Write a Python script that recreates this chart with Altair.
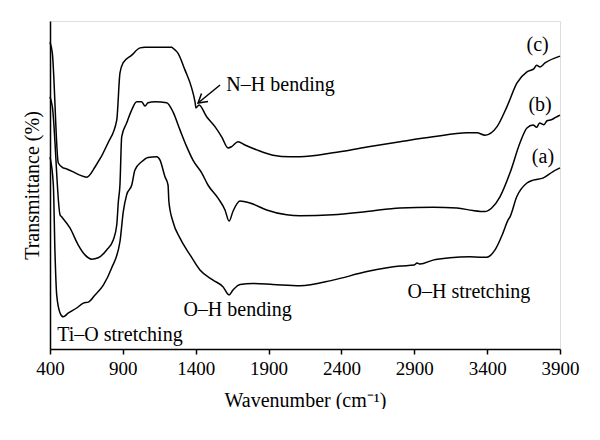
import altair as alt
import pandas as pd

FONT = "Liberation Serif"

# Curve (a)
wn_a = [400, 423, 434, 446, 469, 491, 526, 583, 629, 663, 709, 766, 823, 880, 903, 926,
        961, 983, 1029, 1073, 1132, 1155, 1189, 1210, 1216, 1244, 1292, 1361, 1429, 1519,
        1587, 1629, 1656, 1704, 1793, 1930, 2116, 2342, 2575, 2802, 2900, 2919, 2940, 3028,
        3145, 3282, 3351, 3397, 3454, 3509, 3543, 3557, 3603, 3673, 3715, 3783, 3852, 3900]
tr_a = [58.5, 50.0, 29.7, 16.5, 11.0, 9.8, 11.0, 12.5, 14.0, 14.3, 16.5, 19.5, 24.7, 32.7, 41.9, 47.0,
        50.0, 54.6, 57.1, 58.4, 58.6, 57.6, 52.5, 50.0, 44.9, 38.8, 33.8, 28.7, 24.1, 21.0,
        19.0, 16.5, 18.0, 19.7, 20.0, 19.7, 19.3, 21.0, 23.6, 25.3, 25.6, 26.2, 25.9, 27.1,
        27.8, 28.1, 28.0, 28.0, 30.2, 35.4, 39.3, 40.3, 46.4, 50.6, 51.5, 52.1, 54.1, 55.2]

# Curve (b)
wn_b = [400, 416, 469, 480, 537, 594, 640, 686, 731, 789, 834, 858, 869, 880, 892, 926,
        961, 995, 1029, 1052, 1073, 1121, 1201, 1244, 1292, 1338, 1381, 1441, 1484, 1553,
        1601, 1629, 1656, 1704, 1773, 1887, 2024, 2116, 2342, 2575, 2802, 3028, 3193, 3303,
        3385, 3431, 3488, 3557, 3625, 3673, 3715, 3740, 3760, 3790, 3811, 3840, 3870, 3900]
tr_b = [76.9, 73.9, 40.9, 40.3, 36.9, 31.7, 28.7, 27.4, 27.8, 30.2, 33.2, 37.8, 44.9, 50.0, 64.7, 68.9,
        72.9, 75.4, 75.4, 74.1, 75.1, 75.4, 75.1, 72.3, 66.8, 61.7, 57.6, 53.7, 50.0, 46.0,
        42.4, 39.0, 42.0, 45.1, 44.5, 42.4, 40.9, 40.6, 40.9, 41.9, 43.0, 43.2, 43.0, 42.2,
        41.9, 43.0, 46.4, 53.7, 62.8, 67.4, 68.3, 67.6, 68.9, 68.4, 69.6, 69.9, 70.6, 71.3]

# Curve (c)
wn_c = [400, 416, 457, 491, 515, 572, 606, 652, 709, 798, 858, 880, 901, 961, 1018, 1052,
        1235, 1244, 1278, 1326, 1372, 1395, 1402, 1423, 1475, 1532, 1578, 1622, 1647, 1690,
        1738, 1819, 1930, 2047, 2116, 2342, 2575, 2802, 3028, 3262, 3330, 3385, 3468, 3536,
        3605, 3673, 3720, 3740, 3763, 3797, 3900]
tr_c = [93.5, 90.2, 56.7, 55.2, 54.9, 53.7, 53.0, 52.4, 55.5, 62.8, 69.8, 84.1, 87.2, 89.6, 91.8, 92.0,
        92.0, 91.7, 90.2, 85.1, 79.6, 75.4, 73.5, 74.4, 70.8, 67.8, 64.7, 61.3, 61.7, 63.2,
        62.2, 60.7, 59.1, 58.6, 58.6, 59.8, 61.6, 63.2, 64.7, 65.9, 65.9, 65.2, 67.8, 73.9,
        81.1, 84.5, 85.4, 86.5, 86.0, 87.2, 89.3]

x_ticks = [400, 900, 1400, 1900, 2400, 2900, 3400, 3900]

label_text = ["(c)", "(b)", "(a)", "N–H bending", "O–H bending", "Ti–O stretching", "O–H stretching"]
label_x = [3746, 3763, 3783, 1982, 1687, 880, 3275]
label_y = [92.7, 74.4, 58.5, 80.5, 11.9, 4.3, 17.4]

arrow_x = [1567, 1416]
arrow_y = [80.5, 75.0]

rows = []
for name, wn, tr in [("a", wn_a, tr_a), ("b", wn_b, tr_b), ("c", wn_c, tr_c)]:
    for w, t in zip(wn, tr):
        rows.append({"series": name, "wavenumber": w, "transmittance": t})
df = pd.DataFrame(rows)

labels_df = pd.DataFrame({"text": label_text, "x": label_x, "y": label_y})
arrow_df = pd.DataFrame({"x": arrow_x, "y": arrow_y})
tip_df = arrow_df.iloc[[1]]

xscale = alt.Scale(domain=[400, 3900], nice=False, zero=False)
yscale = alt.Scale(domain=[0, 100], nice=False)

lines = alt.Chart(df).mark_line(color="black", strokeWidth=1.5, interpolate="monotone").encode(
    x=alt.X("wavenumber:Q", scale=xscale,
            axis=alt.Axis(values=x_ticks, title="Wavenumber (cm⁻¹)", grid=False,
                          tickSize=5, tickColor="black", tickWidth=1.5,
                          domainColor="black", domainWidth=1.5,
                          labelFont=FONT, labelFontSize=19, labelColor="black", labelPadding=5,
                          labelFlush=False, labelOverlap=False,
                          titleFont=FONT, titleFontSize=20, titleColor="black",
                          titleFontWeight="normal", titlePadding=12, format="d")),
    y=alt.Y("transmittance:Q", scale=yscale,
            axis=alt.Axis(title="Transmittance (%)", labels=False, ticks=False, grid=False,
                          domainColor="black", domainWidth=1.5,
                          titleFont=FONT, titleFontSize=20, titleColor="black",
                          titleFontWeight="normal", titlePadding=8)),
    detail="series:N",
)

texts = alt.Chart(labels_df).mark_text(font=FONT, fontSize=20, color="black",
                                       align="center", baseline="middle").encode(
    x=alt.X("x:Q", scale=xscale), y=alt.Y("y:Q", scale=yscale), text="text:N")

arrow = alt.Chart(arrow_df).mark_line(color="black", strokeWidth=1.5).encode(
    x=alt.X("x:Q", scale=xscale), y=alt.Y("y:Q", scale=yscale))

tip = alt.Chart(tip_df).mark_point(shape="M1,-0.6L0,0L1,0.6", size=300, filled=False,
                                   color="black", strokeWidth=1.5, angle=321, opacity=1).encode(
    x=alt.X("x:Q", scale=xscale), y=alt.Y("y:Q", scale=yscale))

chart = alt.layer(lines, arrow, tip, texts).properties(
    width=510, height=328,
    autosize=alt.AutoSizeParams(type="none"),
    padding={"left": 42, "top": 13, "right": 20, "bottom": 60},
).configure_view(stroke="black", strokeWidth=1.5).configure(background="white")

chart.save("out.html", embed_options={"renderer": "svg", "actions": False})
